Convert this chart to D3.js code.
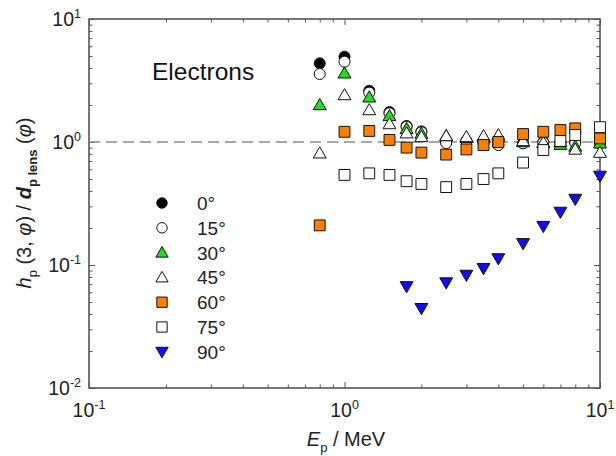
<!DOCTYPE html>
<html>
<head>
<meta charset="utf-8">
<script src="https://cdn.jsdelivr.net/npm/d3@7"></script>
<style>
  html, body { margin: 0; padding: 0; background: #fff; }
  svg { display: block; font-family: "Liberation Sans", Arial, sans-serif; }
</style>
</head>
<body>
<svg id="chart" width="616" height="456"></svg>
<script>
// Photon energies (MeV)
const energies = [0.8, 1, 1.25, 1.5, 1.75, 2, 2.5, 3, 3.5, 4, 5, 6, 7, 8, 10];

// Ratio h_p(3, phi) / d_p lens(phi) for each angle (null = no point)
const angle0  = [4.36, 4.94, 2.61, 1.75, 1.35, 1.22, 1.00, 1.02, 1.00, 0.95, 0.98, 1.00, 1.00, 1.00, 1.00];
const angle15 = [3.57, 4.50, 2.52, 1.71, 1.33, 1.20, 0.98, 1.02, 0.98, 0.945, 0.975, 0.99, 0.98, 0.98, 0.98];
const angle30 = [2.00, 3.62, 2.31, 1.63, 1.28, 1.17, 1.12, 1.08, 1.10, 1.10, 1.00, 0.98, 0.95, 0.92, 0.975];
const angle45 = [0.81, 2.41, 1.82, 1.40, 1.18, 1.10, 1.12, 1.10, 1.12, 1.14, 1.02, 0.99, 1.00, 0.87, 0.82];
const angle60 = [0.21, 1.21, 1.23, 1.04, 0.90, 0.82, 0.79, 0.87, 0.945, 1.00, 1.16, 1.21, 1.25, 1.29, 1.07];
const angle75 = [null, 0.54, 0.556, 0.54, 0.48, 0.456, 0.43, 0.456, 0.50, 0.556, 0.68, 0.86, 1.02, 1.14, 1.32];
const angle90 = [null, null, null, null, 0.067, 0.0445, 0.072, 0.083, 0.094, 0.113, 0.15, 0.207, 0.27, 0.344, 0.53];

const seriesNames = ["0°", "15°", "30°", "45°", "60°", "75°", "90°"];
const xMajorTicks = [0.1, 1, 10];
const yMajorTicks = [0.01, 0.1, 1, 10];
const annotation = "Electrons";

const series = [
  { name: seriesNames[0], values: angle0,  shape: d3.symbolCircle,   fill: "#000000", size: 95,  rot: 0 },
  { name: seriesNames[1], values: angle15, shape: d3.symbolCircle,   fill: "#ffffff", size: 95,  rot: 0 },
  { name: seriesNames[2], values: angle30, shape: d3.symbolTriangle, fill: "#22dd22", size: 72,  rot: 0 },
  { name: seriesNames[3], values: angle45, shape: d3.symbolTriangle, fill: "#ffffff", size: 72,  rot: 0 },
  { name: seriesNames[4], values: angle60, shape: d3.symbolSquare,   fill: "#ff8000", size: 118, rot: 0 },
  { name: seriesNames[5], values: angle75, shape: d3.symbolSquare,   fill: "#ffffff", size: 118, rot: 0 },
  { name: seriesNames[6], values: angle90, shape: d3.symbolTriangle, fill: "#1010ee", size: 72,  rot: 180 }
];

const svg = d3.select("#chart");
const L = 89, R = 600, T = 19, B = 388;

const x = d3.scaleLog().domain([0.1, 10]).range([L, R]);
const y = d3.scaleLog().domain([0.01, 10]).range([B, T]);

// minor + major tick values for each decade
function decadeTicks(lo, hi) {
  const out = [];
  for (let e = Math.round(Math.log10(lo)); e < Math.round(Math.log10(hi)); e++) {
    for (let m = 1; m < 10; m++) out.push(m * Math.pow(10, e));
  }
  out.push(hi);
  return out;
}
const xTicks = decadeTicks(0.1, 10);
const yTicks = decadeTicks(0.01, 10);
const isMajor = v => Math.abs(Math.log10(v) - Math.round(Math.log10(v))) < 1e-9;

const axisColor = "#555";

// inward ticks on all four sides
function styleAxis(g) {
  g.select(".domain").remove();
  g.selectAll(".tick line").attr("stroke", axisColor).attr("stroke-width", 1);
  g.selectAll(".tick text").remove();
}
svg.append("g").attr("transform", `translate(0,${B})`)
  .call(d3.axisBottom(x).tickValues(xTicks).tickSizeOuter(0).tickSizeInner(0))
  .call(styleAxis)
  .selectAll(".tick line").attr("y2", d => isMajor(d) ? -6 : -3.5);
svg.append("g").attr("transform", `translate(0,${T})`)
  .call(d3.axisTop(x).tickValues(xTicks).tickSizeOuter(0).tickSizeInner(0))
  .call(styleAxis)
  .selectAll(".tick line").attr("y2", d => isMajor(d) ? 6 : 3.5);
svg.append("g").attr("transform", `translate(${L},0)`)
  .call(d3.axisLeft(y).tickValues(yTicks).tickSizeOuter(0).tickSizeInner(0))
  .call(styleAxis)
  .selectAll(".tick line").attr("x2", d => isMajor(d) ? 6 : 3.5);
svg.append("g").attr("transform", `translate(${R},0)`)
  .call(d3.axisRight(y).tickValues(yTicks).tickSizeOuter(0).tickSizeInner(0))
  .call(styleAxis)
  .selectAll(".tick line").attr("x2", d => isMajor(d) ? -6 : -3.5);

// frame
svg.append("rect")
  .attr("x", L).attr("y", T).attr("width", R - L).attr("height", B - T)
  .attr("fill", "none").attr("stroke", axisColor).attr("stroke-width", 1.6);

// reference line at ratio 1
svg.append("line")
  .attr("x1", x(0.1)).attr("x2", x(10)).attr("y1", y(1)).attr("y2", y(1))
  .attr("stroke", "#8a8a8a").attr("stroke-width", 1.3)
  .attr("stroke-dasharray", "11,6");

// power-of-ten labels
function powLabel(sel, v) {
  const e = Math.round(Math.log10(v));
  sel.append("tspan").text("10");
  sel.append("tspan").attr("font-size", 12.5).attr("dy", -8).text(String(e));
}
xMajorTicks.forEach(v => {
  const t = svg.append("text").attr("x", x(v)).attr("y", 417)
    .attr("text-anchor", "middle").attr("font-size", 19.5).attr("fill", "#222");
  powLabel(t, v);
});
yMajorTicks.forEach(v => {
  const t = svg.append("text").attr("x", 81).attr("y", y(v) + 7)
    .attr("text-anchor", "end").attr("font-size", 19.5).attr("fill", "#222");
  powLabel(t, v);
});

// axis titles
const xt = svg.append("text").attr("x", 346).attr("y", 446)
  .attr("text-anchor", "middle").attr("font-size", 20).attr("fill", "#222");
xt.append("tspan").attr("font-style", "italic").text("E");
xt.append("tspan").attr("font-size", 13).attr("dy", 6).text("p");
xt.append("tspan").attr("dy", -6).text(" / MeV");

const yt = svg.append("text")
  .attr("transform", "translate(31,203) rotate(-90)")
  .attr("text-anchor", "middle").attr("font-size", 20).attr("fill", "#222");
yt.append("tspan").attr("font-style", "italic").text("h");
yt.append("tspan").attr("font-size", 13).attr("dy", 6).text("p");
yt.append("tspan").attr("dy", -6).text(" (3, ");
yt.append("tspan").attr("font-style", "italic").text("φ");
yt.append("tspan").text(")  /  ");
yt.append("tspan").attr("font-style", "italic").attr("font-weight", "bold").text("d");
yt.append("tspan").attr("font-size", 13).attr("font-weight", "bold").attr("dy", 6).text("p lens");
yt.append("tspan").attr("dy", -6).text(" (");
yt.append("tspan").attr("font-style", "italic").text("φ");
yt.append("tspan").text(")");

// annotation
svg.append("text").attr("x", 152).attr("y", 80)
  .attr("font-size", 24.5).attr("fill", "#111").text(annotation);

// data markers
series.forEach(s => {
  const pts = energies.map((e, i) => ({ e, v: s.values[i] })).filter(d => d.v != null);
  svg.append("g").selectAll("path").data(pts).join("path")
    .attr("d", d3.symbol().type(s.shape).size(s.size))
    .attr("transform", d => {
      const cy = y(d.v) + (s.shape === d3.symbolTriangle ? (s.rot ? -1 : 1) : 0);
      return `translate(${x(d.e)},${cy}) rotate(${s.rot})`;
    })
    .attr("fill", s.fill).attr("stroke", "#111").attr("stroke-width", 1);
});

// legend
const legend = svg.append("g");
series.forEach((s, i) => {
  const ly = 203 + i * 24.8;
  legend.append("path")
    .attr("d", d3.symbol().type(s.shape).size(s.size * 0.9))
    .attr("transform", `translate(162,${ly + (s.shape === d3.symbolTriangle ? (s.rot ? -1 : 1) : 0)}) rotate(${s.rot})`)
    .attr("fill", s.fill).attr("stroke", "#111").attr("stroke-width", 1);
  legend.append("text").attr("x", 197).attr("y", ly + 7)
    .attr("font-size", 19).attr("fill", "#222").text(s.name);
});
</script>
</body>
</html>
